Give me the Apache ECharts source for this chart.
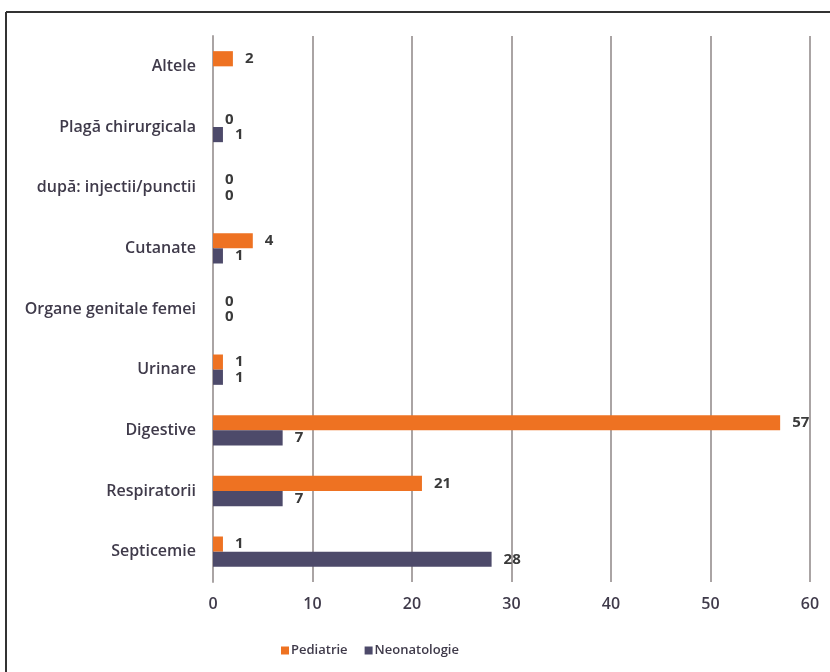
<!DOCTYPE html>
<html><head><meta charset="utf-8">
<script src="https://cdn.jsdelivr.net/npm/echarts@6/dist/echarts.min.js"></script>
<style>html,body{margin:0;padding:0;background:#fff}#c{width:830px;height:672px}</style>
</head><body><div id="c"></div>
<script>
const categories = ['Septicemie','Respiratorii','Digestive','Urinare','Organe genitale femei','Cutanate','după: injectii/punctii','Plagă chirurgicala','Altele'];
const pediatrie = [1,21,57,1,0,4,0,0,2];
const neonatologie = [28,7,7,1,0,1,0,1,null];
const xTicks = [0,10,20,30,40,50,60];

const FONT = 'Open Sans';
const chart = echarts.init(document.getElementById('c'));
const lbl = {show:true, position:'right', distance:12, color:'#3a3a3a', fontWeight:'bold', fontSize:15, fontFamily:FONT};
chart.setOption({
  animation:false,
  backgroundColor:'#fff',
  textStyle:{fontFamily:FONT},
  grid:{left:213, right:20, top:36, bottom:90},
  legend:{data:['Pediatrie','Neonatologie'], left:276, top:639, itemWidth:8, itemHeight:8, itemGap:17,
    textStyle:{color:'#3f3a4a', fontSize:13, fontWeight:600, fontFamily:FONT, padding:[0,0,0,-3]}, icon:'rect'},
  xAxis:{type:'value', min:xTicks[0], max:xTicks[xTicks.length-1], interval:10,
    axisLine:{show:false}, axisTick:{show:false},
    axisLabel:{color:'#3f3a4a', fontSize:16, fontWeight:600, margin:14},
    splitLine:{lineStyle:{color:'#aaa4a4', width:2}}},
  yAxis:{type:'category', data:categories,
    axisLine:{lineStyle:{color:'#aaa4a4', width:2}}, axisTick:{show:false},
    axisLabel:{color:'#3f3a4a', fontSize:16, fontWeight:600, margin:17}},
  series:[
    {name:'Pediatrie', type:'bar', data:pediatrie, itemStyle:{color:'#ee7222'}, barGap:'0%', barCategoryGap:'50%', label:lbl},
    {name:'Neonatologie', type:'bar', data:neonatologie, itemStyle:{color:'#4d4a6a'}, barGap:'0%', barCategoryGap:'50%', label:lbl}
  ],
  graphic:[
    {type:'line', shape:{x1:6,y1:12,x2:830,y2:12}, style:{stroke:'#333', lineWidth:2}},
    {type:'line', shape:{x1:6,y1:12,x2:6,y2:672}, style:{stroke:'#333', lineWidth:2}}
  ]
});
</script></body></html>
